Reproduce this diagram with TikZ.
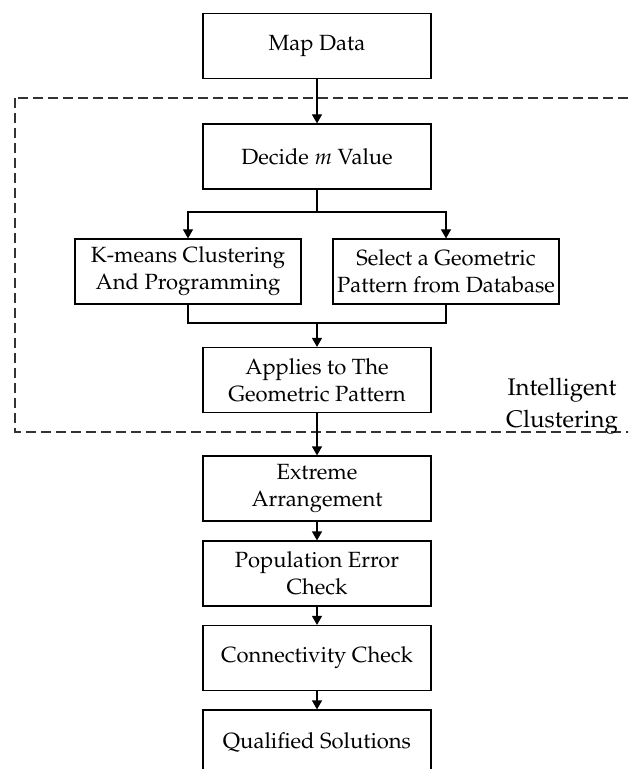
\documentclass[tikz,border=0pt]{standalone}
\usepackage[T1]{fontenc}
\usepackage{mathpazo}
\usetikzlibrary{arrows.meta}

\tikzset{
    stage/.style={draw, line width=0.6pt, minimum width=114pt, minimum height=32.5pt,
        inner sep=2pt, align=center, font=\fontsize{11}{13.5}\selectfont},
    flow/.style={line width=0.6pt, -{Triangle[length=4.5pt,width=5pt]}},
}

\begin{document}
\begin{tikzpicture}[x=0.5pt,y=-0.5pt]
        \useasboundingbox (0,0) rectangle (628,769);
        \clip (0,0) rectangle (628,769);

        % dashed frame of the clustering part
        \draw[line width=0.6pt, dash pattern=on 5pt off 2.5pt, black!80] (15,98) rectangle (640,432);
        \node[font=\fontsize{12}{16}\selectfont, align=center] (label) at (562,406) {Intelligent\\Clustering};

        \node[stage] (map) at (317,46) {Map Data};
        \node[stage] (decide) at (317,156.5) {Decide $m$ Value};
        \node[stage, minimum width=113pt] (kmeans) at (188,271.5) {K-means Clustering\\And Programming};
        \node[stage, minimum width=113pt] (select) at (446,271.5) {Select a Geometric\\Pattern from Database};
        \node[stage] (applies) at (317,380) {Applies to The\\Geometric Pattern};
        \node[stage] (extreme) at (317,488.5) {Extreme\\Arrangement};
        \node[stage] (pop) at (317,573.5) {Population Error\\Check};
        \node[stage] (conn) at (317,658) {Connectivity Check};
        \node[stage] (qual) at (317,742.5) {Qualified Solutions};

        \coordinate (split) at (317,212);
        \coordinate (merge) at (317,323);

        \draw[line width=0.6pt] (decide) -- (split);
        \draw[flow] (split) -| (kmeans);
        \draw[flow] (split) -| (select);
        \draw[line width=0.6pt] (kmeans) |- (merge) -| (select);

        \foreach \a/\b in {map/decide, merge/applies, applies/extreme, extreme/pop, pop/conn, conn/qual}
            \draw[flow] (\a) -- (\b);
    \end{tikzpicture}
\end{document}
